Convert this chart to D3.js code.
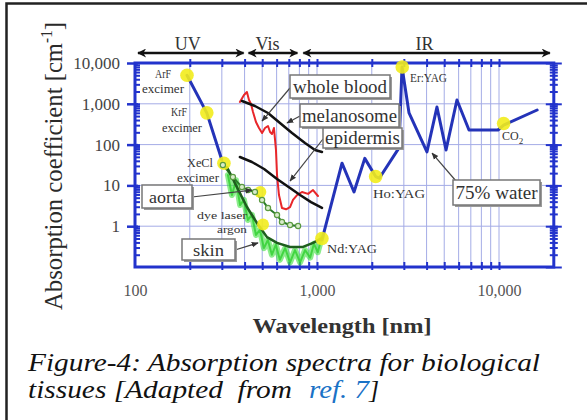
<!DOCTYPE html>
<html><head><meta charset="utf-8">
<script src="https://cdn.jsdelivr.net/npm/d3@7"></script>
<style>
html,body{margin:0;padding:0;background:#fff;}
svg{display:block;}
text{font-family:"Liberation Serif","Tinos","Times New Roman","Times","Nimbus Roman","FreeSerif","DejaVu Serif",serif;}
</style></head><body>
<svg id="c" width="587" height="420"></svg>
<script>
// ---------------- DATA (wavelength nm, absorption coefficient cm^-1) ----------------
const waterUV = [[193,5000],[248,600],[300,42]];
const waterIR = [[1065,0.46],[1372,35],[1597,6.9],[1830,46],[2100,16.5],[2200,15],[2822,83],[2931,8000],[3203,596],[4018,66],[4560,832],[5117,74],[5873,1240],[6840,228],[9874,228],[10600,300],[16200,705]];
const wholeBlood = [[377,1107],[397,1643],[412,1945],[423,1239],[434,988],[445,630],[462,358],[480,255],[499,192],[518,255],[538,286],[552,204],[566,182],[580,255],[595,74],[603,18],[618,5.8],[642,2.8],[676,2.6],[711,2.95],[738,4.4],[777,5.8],[827,6.9],[893,6.2],[951,7.7],[1012,5.5]];
const melanosome = [[387,1172],[456,883],[538,595],[626,338],[729,192],[859,109],[975,74],[1065,66]];
const epidermis = [[377,49.7],[439,37.5],[512,25.2],[603,14.4],[711,8.6],[807,5.8],[927,3.9],[1065,2.8]];
const aorta = [[304,31.6],[345,16],[387,9.1],[418,7.7],[456,6.9],[499,4.4],[538,2.8],[603,1.88],[642,1.27],[711,1.07],[787,1.01]];
const skin = [[320,28],[363,9.1],[412,2.95],[468,1.2],[531,0.54],[603,0.39],[711,0.31],[838,0.31],[951,0.39],[1065,0.51]];
const skinMeasured = [[324,18],[341,5.8],[359,13.4],[378,3.3],[397,4.4],[417,1.42],[439,1.9],[462,0.61],[486,0.81],[511,0.29],[537,0.46],[565,0.2],[594,0.35],[625,0.15],[668,0.29],[711,0.13],[757,0.26],[807,0.13],[860,0.26],[917,0.17],[962,0.37],[1010,0.23],[1065,0.57]];
const laserNames = ["ArF","KrF","XeCl","argon","dye","Nd:YAG","Ho:YAG","Er:YAG","CO2"];
const laserWavelengths = [193,248,308,488,505,1064,2100,2940,10600];
const laserAbsorption = [5000,600,35,6.9,1.1,0.5,16.5,8000,330];
const regions = [{name:"UV",from:100,to:400},{name:"Vis",from:400,to:790},{name:"IR",from:800,to:20000}];
const xTickLabels = [100,1000,10000];
const yTickLabels = [1,10,100,1000,10000];
// annotation targets (data coords)
const annotations = [
  {text:"whole blood", target:[499,378]},
  {text:"melanosome", target:[684,338]},
  {text:"epidermis", target:[711,12.8]},
  {text:"aorta", target:[439,7.7]},
  {text:"skin", target:[474,0.39]},
  {text:"75% water", target:[4285,62]}
];

// ---------------- LAYOUT ----------------
const svg = d3.select("#c");
const x = d3.scaleLog().domain([100,20000]).range([135,553.8]);
const y = d3.scaleLog().domain([0.1,10000]).range([267,63]);
const blue = "#2233cc";
const grid = "#a4ace6";
const FF = '"Liberation Serif","Tinos","Times New Roman","Times","Nimbus Roman","FreeSerif","DejaVu Serif",serif';

const defs = svg.append("defs");
defs.append("marker").attr("id","arr").attr("viewBox","0 0 10 10").attr("refX",9).attr("refY",5)
  .attr("markerWidth",7).attr("markerHeight",7).attr("markerUnits","userSpaceOnUse").attr("orient","auto")
  .append("path").attr("d","M0,1 L10,5 L0,9 Z").attr("fill","#333");
defs.append("marker").attr("id","bigE").attr("viewBox","0 0 10 10").attr("refX",9).attr("refY",5)
  .attr("markerWidth",11).attr("markerHeight",9).attr("markerUnits","userSpaceOnUse").attr("orient","auto-start-reverse")
  .append("path").attr("d","M0,0 L10,5 L0,10 L3,5 Z").attr("fill","#111");

// outer frame
svg.append("rect").attr("x",6.5).attr("y",3.5).attr("width",640).attr("height",460)
  .attr("fill","none").attr("stroke","#222").attr("stroke-width",2.5);

const xMinor = x.ticks().filter(v => v > 100 && v < 20000);
const yMinor = y.ticks().filter(v => v > 0.1 && v < 10000);

// grid
svg.append("g").selectAll("line").data(xMinor).join("line")
  .attr("x1",d=>x(d)).attr("x2",d=>x(d)).attr("y1",y(10000)).attr("y2",y(0.1))
  .attr("stroke",grid).attr("stroke-width",1);
svg.append("g").selectAll("line").data(yTickLabels.filter(v=>v<10000)).join("line")
  .attr("x1",x(100)).attr("x2",x(20000)).attr("y1",d=>y(d)).attr("y2",d=>y(d))
  .attr("stroke",grid).attr("stroke-width",1);

// axes ticks
function styleAxis(g){ g.select(".domain").remove(); g.selectAll(".tick line").attr("stroke",blue).attr("stroke-width",2); }
svg.append("g").attr("transform",`translate(0,${y(0.1)-5})`).call(d3.axisBottom(x).tickValues(xMinor).tickSize(8).tickFormat("")).call(styleAxis);
svg.append("g").attr("transform",`translate(0,${y(10000)+4})`).call(d3.axisTop(x).tickValues(xMinor).tickSize(8).tickFormat("")).call(styleAxis);
svg.append("g").attr("transform",`translate(${x(100)},0)`).call(d3.axisRight(y).tickValues(yMinor).tickSize(5).tickFormat("")).call(styleAxis);
svg.append("g").attr("transform",`translate(${x(20000)-4},0)`).call(d3.axisRight(y).tickValues(yMinor).tickSize(8).tickFormat("")).call(styleAxis);
svg.append("g").attr("transform",`translate(${x(20000)-8},0)`).call(d3.axisRight(y).tickValues(yTickLabels.concat([0.1])).tickSize(16).tickFormat("")).call(styleAxis);

// frame
svg.append("rect").attr("x",x(100)).attr("y",y(10000)).attr("width",x(20000)-x(100)).attr("height",y(0.1)-y(10000))
  .attr("fill","none").attr("stroke",blue).attr("stroke-width",3);

// labelled axes
const yAx = svg.append("g").attr("transform",`translate(${x(100)+3},0)`)
  .call(d3.axisLeft(y).tickValues(yTickLabels).tickSize(11).tickPadding(7).tickFormat(d3.format(",")));
yAx.select(".domain").remove();
yAx.selectAll(".tick line").attr("stroke",blue).attr("stroke-width",2.5);
yAx.selectAll("text").attr("font-size",17).attr("fill","#444").attr("font-family",FF);
const xAx = svg.append("g").attr("transform",`translate(0,${y(0.1)})`)
  .call(d3.axisBottom(x).tickValues(xTickLabels).tickSize(0).tickPadding(18).tickFormat(d3.format(",")));
xAx.select(".domain").remove();
xAx.selectAll("text").attr("font-size",16).attr("fill","#555").attr("font-family",FF);

// region arrows
const rg = svg.append("g");
regions.forEach((r,i)=>{
  const x0 = x(r.from)+(i===0?3:4), x1 = x(r.to)-(i===2?4:1);
  rg.append("line").attr("x1",x0).attr("x2",x1).attr("y1",53).attr("y2",53)
    .attr("stroke","#111").attr("stroke-width",2.5)
    .attr("marker-start","url(#bigE)").attr("marker-end","url(#bigE)");
  rg.append("text").attr("x",x(Math.sqrt(r.from*r.to))-(i===1?4:2)).attr("y",50).attr("text-anchor","middle")
    .attr("font-size",18).attr("fill","#333").text(r.name);
});

// curves
const line = d3.line().x(d=>x(d[0])).y(d=>y(d[1]));
const curves = svg.append("g").attr("fill","none").attr("stroke-linejoin","round").attr("stroke-linecap","round");
curves.append("path").datum(skinMeasured).attr("d",line).attr("stroke","#3fe03f").attr("stroke-width",6).attr("opacity",0.6);
curves.append("path").datum(skinMeasured).attr("d",line).attr("stroke","#30d030").attr("stroke-width",2).attr("opacity",0.8);
curves.append("path").datum(wholeBlood).attr("d",line).attr("stroke","#e8262a").attr("stroke-width",2);
curves.append("path").datum(melanosome).attr("d",line).attr("stroke","#111").attr("stroke-width",2.5);
curves.append("path").datum(epidermis).attr("d",line).attr("stroke","#111").attr("stroke-width",2.5);
curves.append("path").datum(waterUV).attr("d",line).attr("stroke","#2433b8").attr("stroke-width",3);
curves.append("path").datum(waterIR).attr("d",line).attr("stroke","#2433b8").attr("stroke-width",3);

// laser spots
svg.append("g").selectAll("circle").data(laserNames).join("circle")
  .attr("cx",(d,i)=>x(laserWavelengths[i])).attr("cy",(d,i)=>y(laserAbsorption[i]))
  .attr("r",(d,i)=> (d==="argon"||d==="dye")?6:6.8)
  .attr("fill","#f2ec1c").attr("opacity",0.9);

curves.append("path").datum(aorta).attr("d",line).attr("stroke","#2b7a2b").attr("stroke-width",2);
svg.append("g").selectAll("circle").data(aorta).join("circle")
  .attr("cx",d=>x(d[0])).attr("cy",d=>y(d[1])).attr("r",2.6)
  .attr("fill","#d8eccc").attr("stroke","#5a9a40").attr("stroke-width",1.2);
curves.append("path").datum(skin).attr("d",line).attr("stroke","#1e5e1e").attr("stroke-width",2.5);

// small laser labels
const sl = svg.append("g").attr("font-size",12).attr("fill","#333");
function lab(t,xx,yy,anchor,len,fs){
  const e = sl.append("text").attr("x",xx).attr("y",yy).attr("text-anchor",anchor||"middle").text(t);
  if(len) e.attr("textLength",len).attr("lengthAdjust","spacingAndGlyphs");
  if(fs) e.attr("font-size",fs);
  return e;
}
lab("ArF",163,78,"middle",16); lab("excimer",163,93,"middle",42);
lab("KrF",179,116,"middle",16); lab("excimer",182,132,"middle",40);
lab("XeCl",200,167,"middle",26); lab("excimer",198,182,"middle",42);
lab("dye laser",247,219,"end",50,11); lab("argon",247,233,"end",30,11);
lab("Nd:YAG",327,253,"start",50);
lab("Ho:YAG",373,198,"start",52);
lab("Er:YAG",410,82,"start",37);
const co = lab("CO",502,140,"start");
co.append("tspan").attr("font-size",9).attr("dy",4).text("2");

// boxed annotations
const boxes = [
  {x:290,y:75,w:100,h:23,tw:94,fs:18},
  {x:300,y:104,w:99,h:23,tw:95,fs:18},
  {x:323,y:128,w:79,h:20,tw:75,fs:18},
  {x:142,y:185,w:50,h:23,tw:36,fs:17},
  {x:182,y:239,w:53,h:21,tw:31,fs:17},
  {x:453,y:180,w:87,h:25,tw:82,fs:18}
];
const starts = [[290,88],[300,116],[323,139],[192,197],[235,250],[456,181]];
const ag = svg.append("g");
annotations.forEach((a,i)=>{
  const b = boxes[i];
  ag.append("line").attr("x1",starts[i][0]).attr("y1",starts[i][1])
    .attr("x2",x(a.target[0])).attr("y2",y(a.target[1]))
    .attr("stroke","#444").attr("stroke-width",1.2).attr("marker-end","url(#arr)");
  ag.append("rect").attr("x",b.x+2).attr("y",b.y+2).attr("width",b.w).attr("height",b.h).attr("fill","#9a9a9a");
  ag.append("rect").attr("x",b.x).attr("y",b.y).attr("width",b.w).attr("height",b.h)
    .attr("fill","#fff").attr("stroke","#777").attr("stroke-width",1.5);
  ag.append("text").attr("x",b.x+b.w/2).attr("y",b.y+b.h/2+6).attr("text-anchor","middle")
    .attr("font-size",b.fs).attr("fill","#333")
    .attr("textLength",b.tw).attr("lengthAdjust","spacingAndGlyphs").text(a.text);
});

// axis titles
const yt = svg.append("text").attr("transform","translate(62,166) rotate(-90)").attr("text-anchor","middle")
  .attr("font-size",26).attr("fill","#2a2a2a").attr("textLength",288).attr("lengthAdjust","spacingAndGlyphs");
yt.append("tspan").text("Absorption coefficient [cm");
yt.append("tspan").attr("font-size",16).attr("dy",-10).text("-1");
yt.append("tspan").attr("dy",10).text("]");
svg.append("text").attr("x",342).attr("y",333).attr("text-anchor","middle").attr("font-size",22)
  .attr("font-weight","bold").attr("fill","#333").attr("textLength",179).attr("lengthAdjust","spacingAndGlyphs")
  .text("Wavelength [nm]");

// caption
const cap = svg.append("g").attr("font-style","italic").attr("font-size",26).attr("fill","#111");
cap.append("text").attr("x",28).attr("y",371).attr("textLength",512).attr("lengthAdjust","spacingAndGlyphs")
  .text("Figure-4: Absorption spectra for biological");
cap.append("text").attr("x",28).attr("y",398).attr("textLength",264).attr("lengthAdjust","spacingAndGlyphs")
  .style("white-space","pre").text("tissues [Adapted  from");
cap.append("text").attr("x",309).attr("y",398).attr("fill","#1a72c6").attr("textLength",60).attr("lengthAdjust","spacingAndGlyphs")
  .text("ref. 7");
cap.append("text").attr("x",369).attr("y",398).text("]");
</script>
</body></html>
